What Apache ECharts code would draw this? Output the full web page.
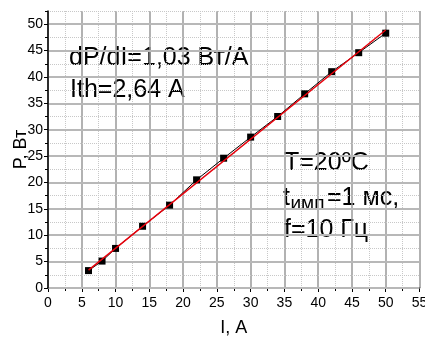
<!DOCTYPE html>
<html>
<head>
<meta charset="utf-8">
<script src="https://cdn.jsdelivr.net/npm/echarts@6/dist/echarts.min.js"></script>
<style>
	html, body { margin: 0; padding: 0; background: #fff; }
	#chart { width: 425px; height: 338px; }
</style>
</head>
<body>
<div id="chart"></div>
<script>
// измерения: ток I (А) и мощность P (Вт)
const currentI = [6, 8, 10, 14, 18, 22, 26, 30, 34, 38, 42, 46, 50];
const powerP = [3.3, 5.1, 7.5, 11.7, 15.7, 20.5, 24.6, 28.6, 32.5, 36.8, 41.0, 44.6, 48.3];
// линейная аппроксимация (концы прямой)
const fitI = [6, 50];
const fitP = [3.4, 48.9];

const FONT = '"Liberation Sans", Arial, sans-serif';

let myChart = echarts.init(document.getElementById("chart"));

let option = {
	animation: false,
	backgroundColor: "#fff",
	grid: {
		left: 48,
		right: 5.5,
		top: 11,
		bottom: 50,
		containLabel: false,
		outerBoundsMode: "none",
	},
	xAxis: {
		type: "value",
		min: 0,
		max: 55,
		interval: 5,
		name: "I, А",
		nameLocation: "middle",
		nameGap: 31,
		nameMoveOverlap: false,
		nameTextStyle: { fontFamily: FONT, fontSize: 18, color: "#000" },
		axisLine: { lineStyle: { color: "#000", width: 1.5 } },
		axisTick: { show: true, length: 4, lineStyle: { color: "#000" } },
		minorTick: { show: true, splitNumber: 2, length: 3, lineStyle: { color: "#000" } },
		axisLabel: { fontFamily: FONT, fontSize: 14, color: "#000", margin: 8 },
		splitLine: { show: true, lineStyle: { color: "#999", width: 1.5 } },
		minorSplitLine: { show: true, lineStyle: { color: "#c8c8c8", width: 1, type: "dotted" } },
	},
	yAxis: [
		{
			type: "value",
			min: 0,
			max: 52.5,
			interval: 5,
			name: "P, Вт",
			nameLocation: "middle",
			nameGap: 18,
			nameMoveOverlap: false,
			nameTextStyle: { fontFamily: FONT, fontSize: 18, color: "#000" },
			axisLine: { show: true, lineStyle: { color: "#000", width: 1.5 } },
			axisTick: { show: true, length: 4, lineStyle: { color: "#000" } },
			axisLabel: { fontFamily: FONT, fontSize: 14, color: "#000", margin: 5, showMaxLabel: false },
			splitLine: { show: true, showMaxLine: false, lineStyle: { color: "#b8b8b8", width: 2 } },
			z: 3,
		},
		{
			// вспомогательная ось: мелкая сетка через 2,5
			type: "value",
			position: "left",
			min: 0,
			max: 52.5,
			interval: 2.5,
			axisLine: { show: false },
			axisTick: { show: true, length: 3, lineStyle: { color: "#000" } },
			axisLabel: { show: false },
			splitLine: { show: true, lineStyle: { color: "#c8c8c8", width: 1, type: "dotted" } },
			z: 1,
		},
	],
	graphic: [
		{ type: "text", x: 69, y: 58, style: { text: "dP/dI=1,03 Вт/А", font: "25px " + FONT, fill: "#000", verticalAlign: "middle" } },
		{ type: "text", x: 70, y: 90, style: { text: "Ith=2,64 А", font: "25px " + FONT, fill: "#000", verticalAlign: "middle" } },
		{ type: "text", x: 284, y: 163, style: { text: "T=20ºC", font: "25px " + FONT, fill: "#000", verticalAlign: "middle" } },
		{ type: "text", x: 283, y: 198, style: { text: "t", font: "25px " + FONT, fill: "#000", verticalAlign: "middle" } },
		{ type: "text", x: 290.5, y: 204, style: { text: "имп", font: "19px " + FONT, fill: "#000", verticalAlign: "middle" } },
		{ type: "text", x: 327, y: 198, style: { text: "=1 мс,", font: "25px " + FONT, fill: "#000", verticalAlign: "middle" } },
		{ type: "text", x: 284, y: 230, style: { text: "f=10 Гц", font: "25px " + FONT, fill: "#000", verticalAlign: "middle" } },
	],
	series: [
		{
			type: "line",
			data: currentI.map((v, i) => [v, powerP[i]]),
			symbol: "rect",
			symbolSize: 7,
			itemStyle: { color: "#000" },
			lineStyle: { color: "#000", width: 1 },
			z: 3,
		},
		{
			type: "line",
			data: fitI.map((v, i) => [v, fitP[i]]),
			showSymbol: false,
			lineStyle: { color: "#e8000b", width: 1.5 },
			z: 4,
		},
	],
};
myChart.setOption(option, true);
</script>
</body>
</html>
